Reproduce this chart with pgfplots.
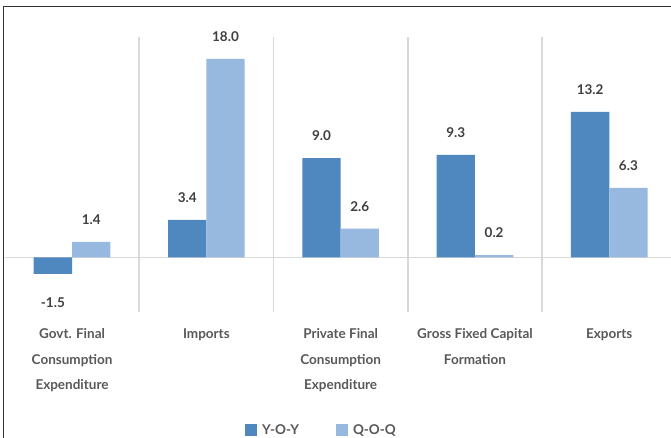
\documentclass[border=0pt]{standalone}
\usepackage{pgfplots}
\pgfplotsset{compat=1.18}
\usepackage{fontspec}
\setmainfont{Lato}
\definecolor{yoy}{HTML}{4F88BF}
\definecolor{qoq}{HTML}{97B9E0}
\definecolor{lab}{HTML}{595959}
\definecolor{dlab}{HTML}{404040}
\definecolor{gridc}{HTML}{D9D9D9}
\begin{document}
\begin{tikzpicture}[x=1pt,y=1pt]
\path[use as bounding box] (0,0) rectangle (671,438);
\clip (0,0) rectangle (671,438);
\fill[white] (0,0) rectangle (671,438);
\begin{axis}[
  at={(4.9pt,125.6pt)}, anchor=south west,
  scale only axis, width=671.5pt, height=275.5pt,
  xmin=-0.5, xmax=4.5, ymin=-5, ymax=20,
  clip=false,
  ybar=0pt, bar width=38.3pt,
  axis line style={draw=none},
  xtick={0,...,4},
  xticklabels={{Govt. Final\\Consumption\\Expenditure},Imports,{Private Final\\Consumption\\Expenditure},{Gross Fixed Capital\\Formation},Exports},
  major tick length=0pt,
  xticklabel style={align=center, anchor=north, yshift=-13pt, font=\fontsize{13.5}{25.5}\selectfont\bfseries, text=lab},
  ytick=\empty,
  extra x ticks={0.5,1.5,2.5,3.5},
  extra x tick labels={},
  extra x tick style={grid=major, major grid style={gridc, line width=1.5pt}},
  extra y ticks={0}, extra y tick labels={},
  extra y tick style={grid=major, major grid style={gridc, line width=1.5pt}},
  nodes near coords={\pgfmathprintnumber[fixed,fixed zerofill,precision=1,assume math mode=true]{\pgfplotspointmeta}},
  nodes near coords style={font=\fontsize{13.5}{16}\selectfont\bfseries, text=dlab, inner ysep=17pt, inner xsep=0pt, text height=16pt},
  legend style={draw=none, fill=none, at={(0.4715,-0.427)}, anchor=center, legend columns=2,
    font=\fontsize{13.5}{16}\selectfont\bfseries, text=lab,
    /tikz/every odd column/.append style={column sep=3pt},
    /tikz/every even column/.append style={column sep=35pt}},
  legend image code/.code={\fill[#1] (0pt,-6pt) rectangle (12pt,6pt);},
]
\addplot[fill=yoy, draw=none] coordinates {(0,-1.5)(1,3.4)(2,9.0)(3,9.3)(4,13.2)};
\addplot[fill=qoq, draw=none] coordinates {(0,1.4)(1,18.0)(2,2.6)(3,0.2)(4,6.3)};
\legend{Y-O-Y, Q-O-Q}
\end{axis}
\draw[black!80, line width=1pt] (3,0) -- (3,431) -- (671,431);
\end{tikzpicture}
\end{document}
